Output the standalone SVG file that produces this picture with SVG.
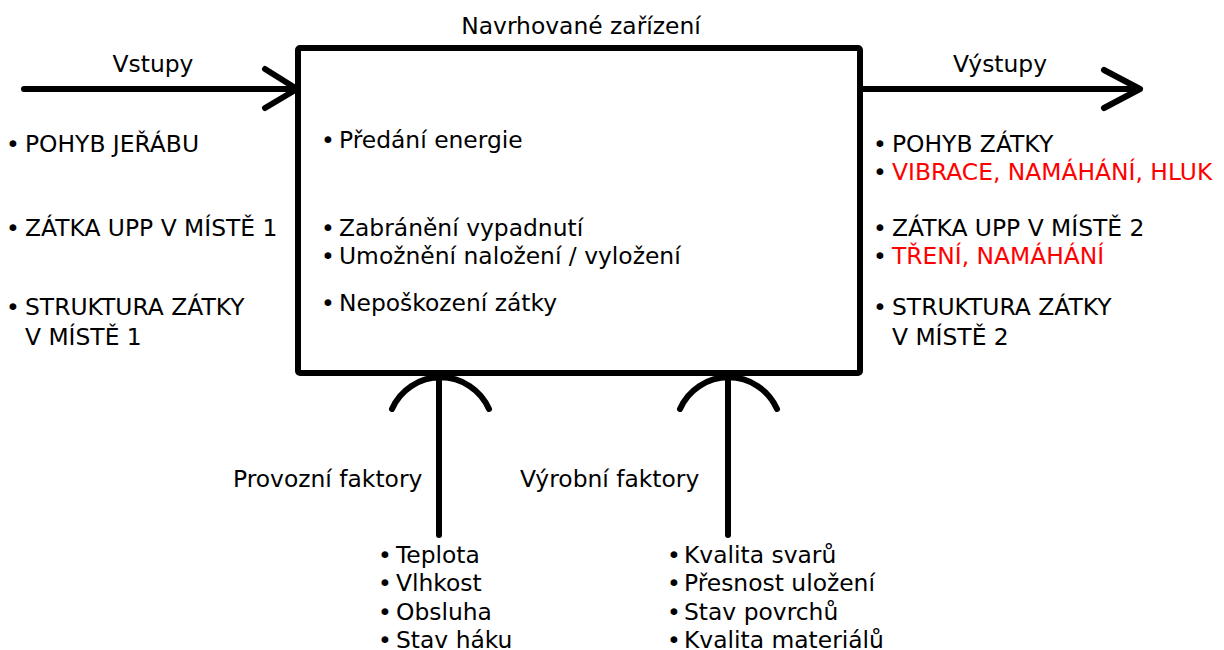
<svg xmlns="http://www.w3.org/2000/svg" width="1224" height="650" viewBox="0 0 1224 650">
<style>
text{font-family:"DejaVu Sans","Liberation Sans",sans-serif;font-size:23.4px;fill:#000}
.r{fill:#ff0000}
.m{text-anchor:middle}
.ln{fill:none;stroke:#000;stroke-width:6;stroke-linecap:round;stroke-linejoin:round}
</style>
<rect width="1224" height="650" fill="#fff"/>
<g id="connectors">
<path class="ln" d="M24,89 H297 M265,69 L297,89 L265,108"/>
<path class="ln" d="M861,89 H1140 M1104,70 L1140,89 L1104,108"/>
<path class="ln" d="M439,375 V535 M392,409 A53,53 0 0 1 489,409"/>
<path class="ln" d="M728,375 V535 M680,409 A53,53 0 0 1 777,409"/>
</g>
<g id="device">
<rect class="ln" x="298" y="48" width="562" height="325" rx="2"/>
<text class="m" x="581" y="34">Navrhované zařízení</text>
<text class="m" x="328" y="148">•</text><text x="339" y="148">Předání energie</text>
<text class="m" x="328" y="236">•</text><text x="339" y="236">Zabránění vypadnutí</text>
<text class="m" x="328" y="264">•</text><text x="339" y="264">Umožnění naložení / vyložení</text>
<text class="m" x="328" y="311">•</text><text x="339" y="311">Nepoškození zátky</text>
</g>
<g id="inputs">
<text class="m" x="153" y="72">Vstupy</text>
<text class="m" x="13" y="152">•</text><text x="25" y="152">POHYB JEŘÁBU</text>
<text class="m" x="13" y="236">•</text><text x="25" y="236">ZÁTKA UPP V MÍSTĚ 1</text>
<text class="m" x="13" y="315">•</text><text x="25" y="315">STRUKTURA ZÁTKY</text>
<text x="25" y="345">V MÍSTĚ 1</text>
</g>
<g id="outputs">
<text class="m" x="1000" y="72">Výstupy</text>
<text class="m" x="880" y="152">•</text><text x="892" y="152">POHYB ZÁTKY</text>
<text class="m" x="880" y="180">•</text><text class="r" x="892" y="180">VIBRACE, NAMÁHÁNÍ, HLUK</text>
<text class="m" x="880" y="236">•</text><text x="892" y="236">ZÁTKA UPP V MÍSTĚ 2</text>
<text class="m" x="880" y="264">•</text><text class="r" x="892" y="264">TŘENÍ, NAMÁHÁNÍ</text>
<text class="m" x="880" y="315">•</text><text x="892" y="315">STRUKTURA ZÁTKY</text>
<text x="892" y="345">V MÍSTĚ 2</text>
</g>
<g id="operating">
<text x="233" y="487">Provozní faktory</text>
<text class="m" x="385" y="563">•</text><text x="396" y="563">Teplota</text>
<text class="m" x="385" y="591">•</text><text x="396" y="591">Vlhkost</text>
<text class="m" x="385" y="620">•</text><text x="396" y="620">Obsluha</text>
<text class="m" x="385" y="648">•</text><text x="396" y="648">Stav háku</text>
</g>
<g id="production">
<text x="520" y="487">Výrobní faktory</text>
<text class="m" x="674" y="563">•</text><text x="684" y="563">Kvalita svarů</text>
<text class="m" x="674" y="591">•</text><text x="684" y="591">Přesnost uložení</text>
<text class="m" x="674" y="620">•</text><text x="684" y="620">Stav povrchů</text>
<text class="m" x="674" y="648">•</text><text x="684" y="648">Kvalita materiálů</text>
</g>
</svg>
